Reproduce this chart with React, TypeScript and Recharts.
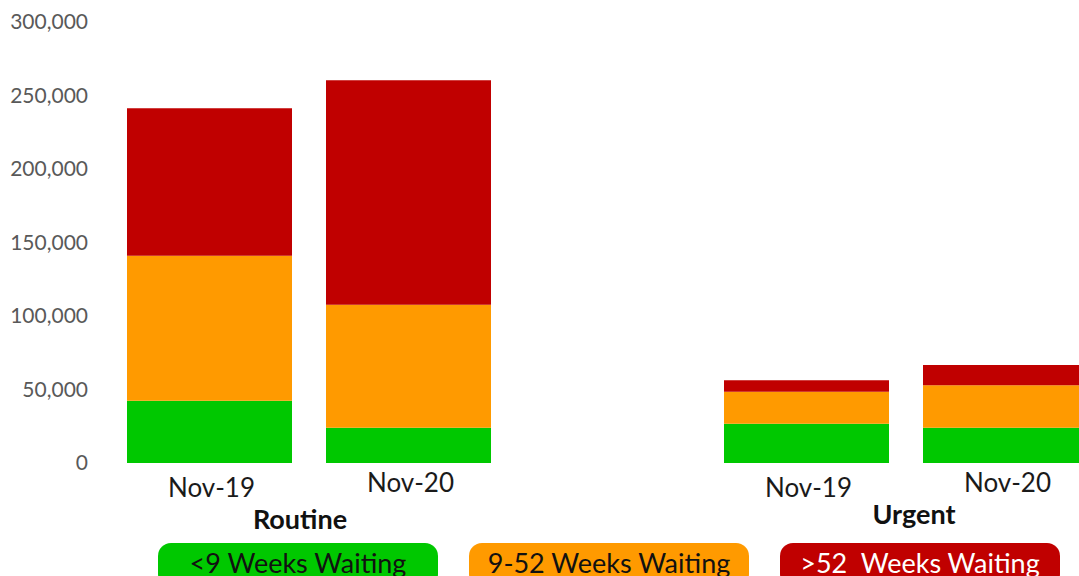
import React from 'react';
import { BarChart, Bar, XAxis, YAxis, Legend } from 'recharts';

const categories = ['Nov-19', 'Nov-20', '', 'Nov-19', 'Nov-20'];
const groupLabels = ['Routine', 'Urgent'];
const under9Weeks = [42400, 24000, null, 26700, 24000];
const weeks9to52 = [98600, 83700, null, 21800, 28900];
const over52Weeks = [100300, 152600, null, 7800, 13800];
const yTicks = [0, 50000, 100000, 150000, 200000, 250000, 300000];

const seriesNames = ['<9 Weeks Waiting', '9-52 Weeks Waiting', '>52  Weeks Waiting'];
const seriesColors = ['#00C800', '#FF9A00', '#C00000'];
const legendTextColors = ['#111111', '#111111', '#FFFFFF'];

const data = categories.map((c, i) => ({
  id: `c${i}`,
  label: c,
  under9: under9Weeks[i],
  mid: weeks9to52[i],
  over52: over52Weeks[i],
}));

const CHART_W = 1120;
const CHART_H = 576;
const MARGIN = { top: 22, right: 15, bottom: 0, left: 0 };
const Y_W = 110;
const SLOT = (CHART_W - MARGIN.left - MARGIN.right - Y_W) / categories.length;

const FONT = 'Lato, "Noto Sans", sans-serif';

const XTick = (props: any) => {
  const { x, y, payload } = props;
  const idx = payload.index;
  const label = categories[idx];
  const isNov19 = label === 'Nov-19';
  const elems: any[] = [];
  if (label) {
    elems.push(
      <text key="t" x={x + 2} y={y + (isNov19 ? 34 : 29)} textAnchor="middle" fontFamily={FONT} fontSize={26} fill="#1a1a1a">
        {label}
      </text>
    );
  }
  if (idx === 0) {
    elems.push(
      <text key="g" x={x + SLOT / 2 - 9} y={y + 66} textAnchor="middle" fontFamily={FONT} fontWeight="bold" fontSize={27} fill="#111">
        {groupLabels[0]}
      </text>
    );
  }
  if (idx === 3) {
    elems.push(
      <text key="g" x={x + SLOT / 2 + 8} y={y + 61} textAnchor="middle" fontFamily={FONT} fontWeight="bold" fontSize={27} fill="#111">
        {groupLabels[1]}
      </text>
    );
  }
  return <g>{elems}</g>;
};

const LegendContent = () => (
  <div style={{ display: 'flex', gap: 31, fontFamily: FONT }}>
    {seriesNames.map((n, i) => (
      <div
        key={n}
        style={{
          width: 280,
          height: 44,
          boxSizing: 'border-box',
          borderRadius: 13,
          background: seriesColors[i],
          color: legendTextColors[i],
          fontSize: 27,
          lineHeight: '32px',
          paddingTop: 4,
          textAlign: 'center',
          whiteSpace: 'pre',
        }}
      >
        {n}
      </div>
    ))}
  </div>
);

export default function App() {
  return (
    <div style={{ position: 'absolute', left: 0, top: 0, width: 1079, height: 576, overflow: 'hidden', background: '#fff' }}>
      <BarChart width={CHART_W} height={CHART_H} data={data} margin={MARGIN} barSize={165}>
        <XAxis
          dataKey="id"
          axisLine={false}
          tickLine={false}
          tickSize={0}
          tickMargin={0}
          height={113}
          interval={0}
          tick={<XTick />}
        />
        <YAxis
          width={Y_W}
          domain={[0, 300000]}
          ticks={yTicks}
          axisLine={false}
          tickLine={false}
          tickSize={0}
          tickMargin={22}
          tickFormatter={(v: number) => v.toLocaleString('en-US')}
          tick={{ fontFamily: FONT, fontSize: 21, fill: '#595959' }}
        />
        <Legend
          verticalAlign="middle"
          align="center"
          layout="horizontal"
          content={<LegendContent />}
          wrapperStyle={{ position: 'absolute', left: 158, top: 543, width: 904, height: 44 }}
        />
        <Bar dataKey="under9" stackId="a" fill={seriesColors[0]} isAnimationActive={false} name={seriesNames[0]} />
        <Bar dataKey="mid" stackId="a" fill={seriesColors[1]} isAnimationActive={false} name={seriesNames[1]} />
        <Bar dataKey="over52" stackId="a" fill={seriesColors[2]} isAnimationActive={false} name={seriesNames[2]} />
      </BarChart>
    </div>
  );
}
